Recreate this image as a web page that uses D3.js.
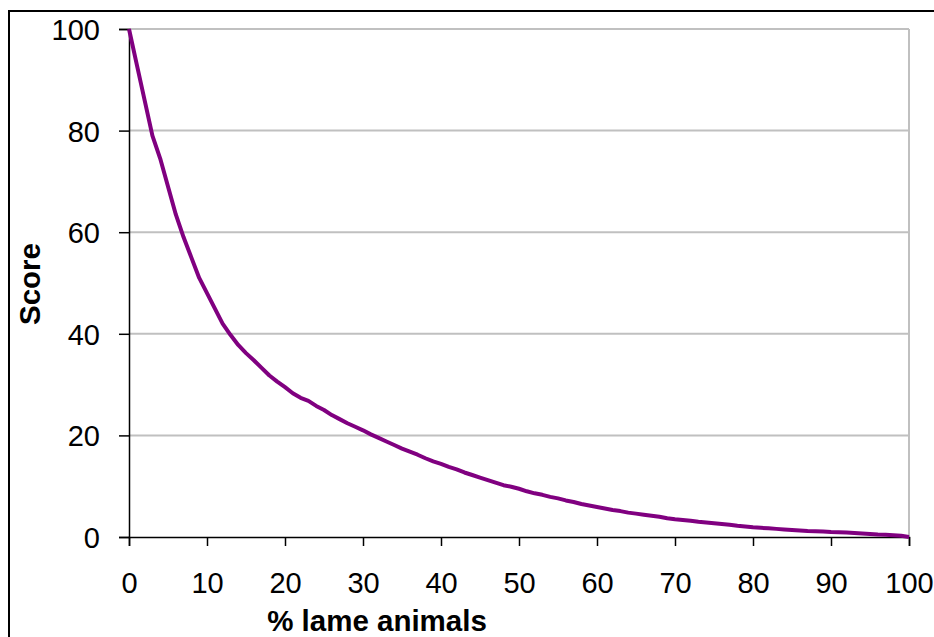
<!DOCTYPE html>
<html><head><meta charset="utf-8">
<script src="https://cdn.jsdelivr.net/npm/d3@7"></script>
<style>body{margin:0;background:#fff}svg{display:block}</style>
</head><body>
<script>
const lamePct = d3.range(0, 101);
const scores = [100,93,86,79,74.5,69,63.5,59,55,51,48,45,42,39.8,37.8,36.2,34.8,33.3,31.8,30.6,29.5,28.3,27.4,26.8,25.8,25,24,23.2,22.4,21.7,21,20.2,19.5,18.8,18.1,17.4,16.8,16.2,15.5,14.9,14.4,13.8,13.3,12.7,12.2,11.7,11.2,10.7,10.2,9.9,9.5,9.0,8.6,8.3,7.9,7.6,7.2,6.9,6.5,6.2,5.9,5.6,5.3,5.1,4.8,4.6,4.4,4.2,4.0,3.7,3.5,3.35,3.2,3.0,2.85,2.7,2.55,2.4,2.2,2.05,1.9,1.8,1.7,1.6,1.5,1.4,1.3,1.2,1.15,1.1,1.0,0.95,0.9,0.8,0.7,0.6,0.5,0.45,0.35,0.25,0];
const xTicks = [0,10,20,30,40,50,60,70,80,90,100];
const yTicks = [0,20,40,60,80,100];
const xTitle = "% lame animals";
const yTitle = "Score";

const W = 934, H = 637;
const svg = d3.select("body").append("svg").attr("width", W).attr("height", H);
const font = "Arial, 'Liberation Sans', sans-serif";

// outer frame
svg.append("rect").attr("x", 9).attr("y", 11).attr("width", 960).attr("height", 700)
  .attr("fill", "none").attr("stroke", "#000").attr("stroke-width", 2);

const x = d3.scaleLinear().domain([0, 100]).range([129, 909]);
const y = d3.scaleLinear().domain([0, 100]).range([537, 29]);

// gridlines
svg.append("g").selectAll("line").data(yTicks.filter(d => d > 0)).join("line")
  .attr("x1", x(0)).attr("x2", x(100)).attr("y1", d => y(d)).attr("y2", d => y(d))
  .attr("stroke", "#c0c0c0").attr("stroke-width", 2);
// right border
svg.append("line").attr("x1", x(100)).attr("x2", x(100)).attr("y1", y(100)).attr("y2", y(0))
  .attr("stroke", "#c0c0c0").attr("stroke-width", 2);

// axes
const xAxis = d3.axisBottom(x).tickValues(xTicks).tickSize(9).tickPadding(26).tickFormat(d3.format("d"));
const yAxis = d3.axisLeft(y).tickValues(yTicks).tickSize(10).tickPadding(19).tickFormat(d3.format("d"));
const gx = svg.append("g").attr("transform", `translate(0,${y(0)})`).call(xAxis);
const gy = svg.append("g").attr("transform", `translate(${x(0)},0)`).call(yAxis);
[gx, gy].forEach(g => {
  g.select(".domain").attr("stroke", "#000").attr("stroke-width", 1.5);
  g.selectAll(".tick line").attr("stroke", "#000").attr("stroke-width", 1.5);
  g.selectAll(".tick text").attr("fill", "#000").style("font-family", font).style("font-size", "29px");
});
gx.selectAll(".tick text").attr("dy", "0.71em");
gy.selectAll(".tick text").attr("dy", "0.36em");

// line
const line = d3.line().x((d, i) => x(lamePct[i])).y(d => y(d));
svg.append("path").datum(scores).attr("d", line)
  .attr("fill", "none").attr("stroke", "#800080").attr("stroke-width", 4).attr("stroke-linejoin", "round");

// titles
svg.append("text").attr("x", 377).attr("y", 631).attr("text-anchor", "middle")
  .style("font-family", font).style("font-size", "29.5px").style("font-weight", "bold").text(xTitle);
svg.append("text").attr("transform", "translate(40,284) rotate(-90)").attr("text-anchor", "middle")
  .style("font-family", font).style("font-size", "29.5px").style("font-weight", "bold").text(yTitle);
</script>
</body></html>
